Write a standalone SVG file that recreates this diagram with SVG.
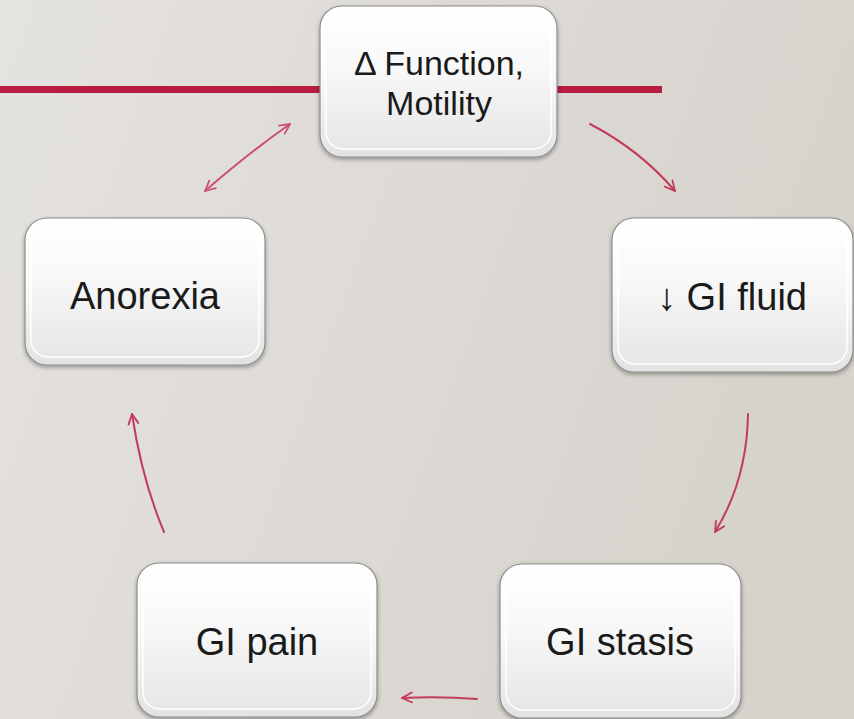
<svg xmlns="http://www.w3.org/2000/svg" width="854" height="719" viewBox="0 0 854 719">
<defs>
<linearGradient id="bg" x1="0" y1="0" x2="1" y2="0.3">
<stop offset="0" stop-color="#e5e3df"/>
<stop offset="0.5" stop-color="#dedbd6"/>
<stop offset="1" stop-color="#d6d2cc"/>
</linearGradient>
<linearGradient id="key" x1="0" y1="0" x2="0" y2="1">
<stop offset="0" stop-color="#ffffff"/>
<stop offset="0.45" stop-color="#fafafa"/>
<stop offset="1" stop-color="#e2e2e2"/>
</linearGradient>
<linearGradient id="inner" x1="0" y1="0" x2="0" y2="1">
<stop offset="0" stop-color="#ffffff"/>
<stop offset="0.4" stop-color="#f8f8f8"/>
<stop offset="1" stop-color="#e6e6e6"/>
</linearGradient>
<filter id="sh" x="-10%" y="-10%" width="120%" height="125%">
<feGaussianBlur in="SourceAlpha" stdDeviation="2"/>
<feOffset dx="0" dy="2"/>
<feComponentTransfer><feFuncA type="linear" slope="0.35"/></feComponentTransfer>
<feMerge><feMergeNode/><feMergeNode in="SourceGraphic"/></feMerge>
</filter>
<marker id="ah" viewBox="0 0 12 12" refX="11" refY="6" markerWidth="12" markerHeight="12" markerUnits="userSpaceOnUse" orient="auto-start-reverse">
<path d="M1,1 L11,6 L1,11" fill="none" stroke="#c43a5f" stroke-width="1.8" stroke-linecap="round" stroke-linejoin="round"/>
</marker>
</defs>
<style>
.outer{fill:url(#key);stroke:#8c8c8c;stroke-width:1.2;filter:url(#sh)}
.in{fill:url(#inner);stroke:#ffffff;stroke-width:1.5}
.lbl{font-family:"Liberation Sans",Arial,sans-serif;font-size:38px;fill:#1a1a1a;text-anchor:middle}
.top{font-size:34px}
.arr{fill:none;stroke:#c43a5f;stroke-width:2;stroke-linecap:round}
</style>
<rect x="0" y="0" width="854" height="719" fill="url(#bg)"/>
<g id="rule">
<rect x="0" y="86" width="322" height="7" fill="#b81c40"/>
<rect x="555" y="86" width="107" height="7" fill="#b81c40"/>
</g>
<g id="connectors">
<path class="arr" d="M205,191 Q250,152 290,124" marker-start="url(#ah)" marker-end="url(#ah)" opacity="0.85"/>
<path class="arr" d="M590,124 Q640,150 675,191" marker-end="url(#ah)"/>
<path class="arr" d="M748,414 Q747,480 715,532" marker-end="url(#ah)"/>
<path class="arr" d="M477,699 Q440,696 402,698" marker-end="url(#ah)"/>
<path class="arr" d="M164,532 Q142,480 132,414" marker-end="url(#ah)"/>
</g>
<g id="node-function">
<rect class="outer" x="320" y="6" width="237" height="151" rx="22"/>
<rect class="in" x="326" y="12" width="225" height="137" rx="17"/>
<text class="lbl top" x="439" y="75">Δ Function,</text>
<text class="lbl top" x="439" y="115">Motility</text>
</g>
<g id="node-fluid">
<rect class="outer" x="612" y="218" width="241" height="154" rx="22"/>
<rect class="in" x="618" y="224" width="229" height="140" rx="17"/>
<text class="lbl" x="732" y="310">↓ GI fluid</text>
</g>
<g id="node-stasis">
<rect class="outer" x="500" y="564" width="241" height="154" rx="22"/>
<rect class="in" x="506" y="570" width="229" height="140" rx="17"/>
<text class="lbl" x="620" y="655">GI stasis</text>
</g>
<g id="node-pain">
<rect class="outer" x="137" y="563" width="240" height="154" rx="22"/>
<rect class="in" x="143" y="569" width="228" height="140" rx="17"/>
<text class="lbl" x="257" y="655">GI pain</text>
</g>
<g id="node-anorexia">
<rect class="outer" x="25" y="218" width="240" height="147" rx="22"/>
<rect class="in" x="31" y="224" width="228" height="133" rx="17"/>
<text class="lbl" x="145" y="309">Anorexia</text>
</g>
</svg>
